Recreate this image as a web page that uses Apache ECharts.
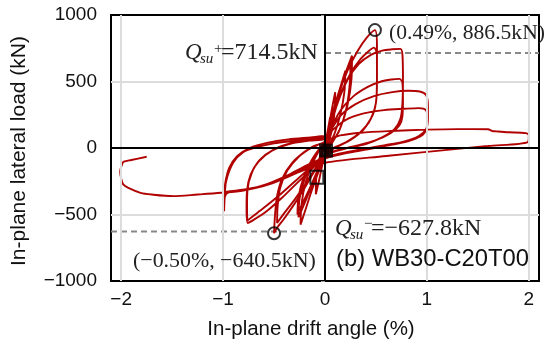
<!DOCTYPE html>
<html><head><meta charset="utf-8">
<script src="https://cdn.jsdelivr.net/npm/echarts@6/dist/echarts.min.js"></script>
<style>html,body{margin:0;padding:0;background:#fff}#c{width:546px;height:345px}</style>
</head><body><div id="c"></div>
<script>
// ---- tick values ----
const xTicks = [-2, -1, 0, 1, 2];
const yTicks = [-1000, -500, 0, 500, 1000];

// ---- hysteresis cycles (drift %, load kN) ----
const cycle1 = [[0,0],[0.02,100],[0.05,230],[0.045,120],[0.02,20],[0,-40],[-0.02,-100],[-0.04,-150],[-0.035,-70],[-0.015,0],[0,30]];
const cycle2 = [[0.03,120],[0.06,260],[0.1,420],[0.095,280],[0.07,140],[0.03,30],[0,-40],[-0.03,-140],[-0.06,-250],[-0.09,-347],[-0.085,-220],[-0.06,-100],[-0.03,-10],[0,40]];
const cycle3 = [[0.04,150],[0.1,330],[0.16,480],[0.2,581],[0.19,420],[0.15,250],[0.09,100],[0.03,10],[0,-40],[-0.06,-170],[-0.13,-320],[-0.19,-460],[-0.24,-576],[-0.23,-420],[-0.19,-260],[-0.12,-110],[-0.05,-10],[0,50]];
const cycle4 = [[0.05,170],[0.12,380],[0.2,560],[0.265,694],[0.26,520],[0.22,320],[0.15,150],[0.07,40],[0,-40],[-0.08,-180],[-0.16,-320],[-0.23,-430],[-0.27,-500],[-0.26,-370],[-0.21,-220],[-0.13,-90],[-0.05,0],[0,40]];
const cycle5 = [[0.05,160],[0.12,360],[0.19,530],[0.25,657],[0.245,500],[0.21,300],[0.14,130],[0.06,30],[0,-50],[-0.08,-190],[-0.16,-340],[-0.22,-450],[-0.26,-520],[-0.25,-380],[-0.2,-230],[-0.12,-90],[-0.04,0],[0,50]];
const cycle6 = [[0.05,180],[0.12,380],[0.22,580],[0.32,730],[0.41,830],[0.49,886.5],[0.51,760],[0.51,560],[0.505,380],[0.47,250],[0.38,140],[0.25,60],[0.12,10],[0,-50],[-0.1,-170],[-0.2,-300],[-0.3,-420],[-0.4,-530],[-0.47,-600],[-0.5,-640.5],[-0.49,-500],[-0.47,-360],[-0.42,-230],[-0.32,-110],[-0.18,-20],[-0.05,30],[0,50]];
const cycle7 = [[0.06,190],[0.15,400],[0.25,560],[0.35,670],[0.43,730],[0.48,755],[0.51,700],[0.51,500],[0.5,340],[0.45,220],[0.35,120],[0.2,40],[0.08,0],[0,-50],[-0.1,-160],[-0.2,-280],[-0.3,-390],[-0.4,-490],[-0.47,-564],[-0.465,-440],[-0.44,-300],[-0.37,-170],[-0.25,-60],[-0.12,10],[0,50]];
const cycle8 = [[0.05,150],[0.12,330],[0.22,510],[0.33,630],[0.45,700],[0.56,732],[0.66,742],[0.74,745],[0.76,700],[0.765,520],[0.76,340],[0.74,220],[0.68,140],[0.56,80],[0.4,30],[0.22,0],[0.08,-30],[0,-60],[-0.12,-150],[-0.27,-260],[-0.43,-380],[-0.58,-480],[-0.7,-540],[-0.76,-564],[-0.77,-450],[-0.765,-320],[-0.73,-200],[-0.65,-100],[-0.52,-20],[-0.35,30],[-0.15,55],[0,70]];
const cycle9 = [[0.06,150],[0.15,280],[0.28,390],[0.42,460],[0.55,500],[0.65,515],[0.73,520],[0.76,490],[0.765,360],[0.76,240],[0.73,170],[0.64,110],[0.5,60],[0.32,20],[0.15,-10],[0,-50],[-0.12,-130],[-0.28,-240],[-0.44,-350],[-0.6,-450],[-0.72,-520],[-0.76,-545],[-0.765,-440],[-0.76,-310],[-0.72,-190],[-0.64,-90],[-0.5,-10],[-0.32,40],[-0.14,65],[0,80]];
const cycle10 = [[0.06,140],[0.16,250],[0.3,330],[0.48,390],[0.66,420],[0.82,430],[0.93,425],[0.99,400],[1.01,320],[1.01,220],[0.99,140],[0.92,90],[0.78,50],[0.58,20],[0.35,-10],[0.15,-40],[0,-70],[-0.18,-130],[-0.38,-210],[-0.6,-280],[-0.82,-320],[-0.96,-340],[-0.99,-400],[-0.99,-475],[-0.985,-380],[-0.97,-250],[-0.9,-110],[-0.8,-30],[-0.68,5],[-0.5,35],[-0.3,55],[-0.1,75],[0,90]];
const cycle11 = [[0.08,140],[0.2,210],[0.38,260],[0.58,285],[0.78,295],[0.92,300],[0.99,285],[1.005,220],[1.0,150],[0.96,100],[0.85,60],[0.66,25],[0.42,-10],[0.2,-40],[0,-80],[-0.2,-150],[-0.42,-230],[-0.65,-290],[-0.86,-320],[-0.97,-330],[-1.0,-400],[-1.0,-470],[-0.99,-390],[-0.98,-270],[-0.94,-150],[-0.86,-60],[-0.74,0],[-0.56,40],[-0.36,65],[-0.14,80],[0,90]];
const cycle12 = [[0.05,70],[0.15,95],[0.35,115],[0.65,128],[1.0,138],[1.3,142],[1.6,141],[1.64,128],[1.68,125],[1.8,118],[1.97,112],[2.0,95],[1.99,45],[1.6,15],[1.25,-10],[0.6,-60],[0,-111],[-0.25,-180],[-0.55,-274],[-0.8,-320],[-1.02,-337],[-1.25,-350],[-1.49,-362],[-1.7,-350],[-1.81,-337],[-1.93,-300],[-1.98,-274],[-2.0,-230],[-2.01,-174],[-1.99,-120],[-1.975,-103],[-1.9,-90],[-1.75,-66]];

// ---- marked points ----
const peakPoints = [[0.49, 886.5], [-0.50, -640.5]];
const crackFilled = [[0.01, -19]];
const crackOpen = [[-0.08, -219]];
const qsuPos = 714.5;
const qsuNeg = -627.8;
const xMin = -2.1, xMax = 2.1;

const curve = [].concat(cycle1, cycle2, cycle3, cycle4, cycle5, cycle6, cycle7, cycle8, cycle9, cycle10, cycle11, cycle12);

const minus = v => String(v).replace('-', '\u2212');
const SANS = 'Liberation Sans, Arial, sans-serif';
const SERIF = 'Liberation Serif, Times New Roman, serif';
const RED = '#b00000';

const chart = echarts.init(document.getElementById('c'), null, {renderer: 'canvas'});
chart.setOption({
  animation: false,
  backgroundColor: '#fff',
  grid: {left: 111, right: 7, top: 15, bottom: 64, show: true, borderColor: '#000', borderWidth: 2, backgroundColor: 'transparent'},
  xAxis: {
    type: 'value', min: xMin, max: xMax,
    axisLine: {show: false}, axisTick: {show: false},
    splitLine: {show: false},
    axisLabel: {customValues: xTicks, formatter: minus, color: '#111', fontSize: 19, fontFamily: SANS, margin: 9}
  },
  yAxis: {
    type: 'value', min: yTicks[0], max: yTicks[yTicks.length - 1], interval: 500,
    axisLine: {show: false},
    axisTick: {show: true, length: 4, lineStyle: {color: '#999'}},
    splitLine: {show: true, showMinLine: false, showMaxLine: false, lineStyle: {color: '#dcdcdc', width: 2}},
    axisLabel: {formatter: minus, color: '#111', fontSize: 19, fontFamily: SANS, margin: 14}
  },
  series: [
    {
      type: 'line', data: [], z: 1, silent: true,
      markLine: {
        silent: true, symbol: 'none', label: {show: false}, animation: false,
        data: xTicks.filter(v => v !== 0).map(v => ({xAxis: v, lineStyle: {color: '#dcdcdc', width: 2, type: 'solid'}}))
          .concat([{xAxis: 0, lineStyle: {color: '#000', width: 2, type: 'solid'}}, {yAxis: 0, lineStyle: {color: '#000', width: 2, type: 'solid'}}])
      }
    },
    {type: 'line', data: [[0, qsuPos], [xMax, qsuPos]], symbol: 'none', z: 2, lineStyle: {color: '#888', width: 2, type: [6, 4]}},
    {type: 'line', data: [[xMin, qsuNeg], [0, qsuNeg]], symbol: 'none', z: 2, lineStyle: {color: '#888', width: 2, type: [6, 4]}},
    {type: 'line', data: curve, symbol: 'none', smooth: 0.3, z: 3, lineStyle: {color: RED, width: 1.9}},
    {type: 'scatter', data: peakPoints, symbol: 'circle', symbolSize: 12, z: 5,
      itemStyle: {color: 'rgba(0,0,0,0)', borderColor: '#000', borderWidth: 2}},
    {type: 'scatter', data: crackFilled, symbol: 'rect', symbolSize: 14, z: 5, itemStyle: {color: '#000'}},
    {type: 'scatter', data: crackOpen, symbol: 'rect', symbolSize: 13, z: 5,
      itemStyle: {color: 'rgba(0,0,0,0)', borderColor: '#000', borderWidth: 2}}
  ],
  graphic: [
    {type: 'text', x: 311, y: 329, style: {text: 'In-plane drift angle (%)', font: '20.5px ' + SANS, fill: '#111', align: 'center', verticalAlign: 'middle'}},
    {type: 'text', x: 19, y: 151, rotation: Math.PI / 2, style: {text: 'In-plane lateral load (kN)', font: '21px ' + SANS, fill: '#111', align: 'center', verticalAlign: 'middle'}},
    {type: 'text', x: 389, y: 33.5, z: 10, style: {text: '(0.49%, 886.5kN)', font: '21.6px ' + SERIF, fill: '#222', align: 'left', verticalAlign: 'middle'}},
    {type: 'text', x: 133, y: 261.5, z: 10, style: {text: '(\u22120.50%, \u2212640.5kN)', font: '21.9px ' + SERIF, fill: '#222', align: 'left', verticalAlign: 'middle'}},
    {type: 'text', x: 336, y: 259.5, z: 10, style: {text: '(b) WB30-C20T00', font: '23.8px ' + SANS, fill: '#111', align: 'left', verticalAlign: 'middle'}},
    // Q_su+ = 714.5kN
    {type: 'text', x: 185, y: 53, z: 10, style: {text: 'Q', font: 'italic 23px ' + SERIF, fill: '#222', align: 'left', verticalAlign: 'middle'}},
    {type: 'text', x: 200, y: 59.2, z: 10, style: {text: 'su', font: 'italic 15px ' + SERIF, fill: '#222', align: 'left', verticalAlign: 'middle'}},
    {type: 'text', x: 214, y: 48.6, z: 10, style: {text: '+', font: '15px ' + SERIF, fill: '#222', align: 'left', verticalAlign: 'middle'}},
    {type: 'text', x: 221, y: 53, z: 10, style: {text: '=714.5kN', font: '24px ' + SERIF, fill: '#222', align: 'left', verticalAlign: 'middle'}},
    // Q_su- = -627.8kN
    {type: 'text', x: 335, y: 229, z: 10, style: {text: 'Q', font: 'italic 23px ' + SERIF, fill: '#222', align: 'left', verticalAlign: 'middle'}},
    {type: 'text', x: 350, y: 235, z: 10, style: {text: 'su', font: 'italic 15px ' + SERIF, fill: '#222', align: 'left', verticalAlign: 'middle'}},
    {type: 'text', x: 364, y: 223.6, z: 10, style: {text: '\u2212', font: '15px ' + SERIF, fill: '#222', align: 'left', verticalAlign: 'middle'}},
    {type: 'text', x: 371, y: 229, z: 10, style: {text: '=\u2212627.8kN', font: '24px ' + SERIF, fill: '#222', align: 'left', verticalAlign: 'middle'}}
  ]
});
</script>
</body></html>
